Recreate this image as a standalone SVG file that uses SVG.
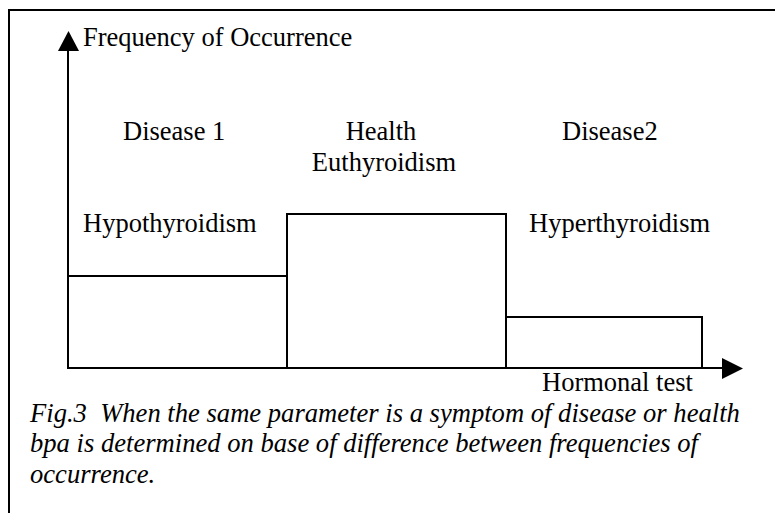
<svg xmlns="http://www.w3.org/2000/svg" width="775" height="513" viewBox="0 0 775 513">
<style>
  .t { font-family: "Liberation Serif", "Times New Roman", serif; font-size: 26.5px; fill: #000; }
  .cap { font-family: "Liberation Serif", "Times New Roman", serif; font-size: 26.6px; font-style: italic; fill: #000; white-space: pre; }
  .ln { stroke: #000; stroke-width: 2; fill: none; }
  .bar { stroke: #000; stroke-width: 2; fill: #fff; }
</style>
<rect x="0" y="0" width="775" height="513" fill="#fff"/>
<rect id="frame" x="9" y="10" width="800" height="600" fill="none" stroke="#000" stroke-width="2"/>
<g id="bar-disease1">
  <rect class="bar" x="68" y="276" width="219" height="92"/>
  <text class="t" x="123" y="140">Disease 1</text>
  <text class="t" x="83" y="232">Hypothyroidism</text>
</g>
<g id="bar-health">
  <rect class="bar" x="287" y="214" width="219" height="154"/>
  <text class="t" x="381" y="140" text-anchor="middle">Health</text>
  <text class="t" x="384" y="171" text-anchor="middle">Euthyroidism</text>
</g>
<g id="bar-disease2">
  <rect class="bar" x="506" y="317" width="196" height="51"/>
  <text class="t" x="562" y="140">Disease2</text>
  <text class="t" x="529" y="232">Hyperthyroidism</text>
</g>
<g id="axes">
  <line class="ln" x1="68" y1="368" x2="68" y2="49"/>
  <polygon points="68.5,31 58,51 79,51" fill="#000"/>
  <line class="ln" x1="68" y1="368" x2="724" y2="368"/>
  <polygon points="743,368.5 722,358 722,379" fill="#000"/>
</g>
<g id="axis-labels">
  <text class="t" x="83" y="46">Frequency of Occurrence</text>
  <text class="t" x="542" y="391">Hormonal test</text>
</g>
<g id="caption">
  <text class="cap" x="30" y="422" xml:space="preserve">Fig.3&#160; When the same parameter is a symptom of disease or health</text>
  <text class="cap" x="30" y="452">bpa is determined on base of difference between frequencies of</text>
  <text class="cap" x="30" y="483">occurrence.</text>
</g>
</svg>
